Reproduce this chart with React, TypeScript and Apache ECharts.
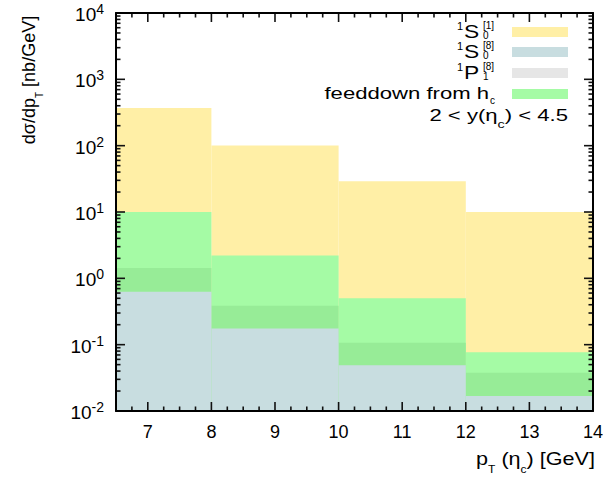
import React, { useEffect, useRef } from "react";
import * as echarts from "echarts";

// Bin edges in p_T (GeV) and differential cross sections per bin (nb/GeV)
const binEdges = [6.5, 8, 10, 12, 14];
const s0Singlet = [369, 101, 29, 10];
const feeddownHc = [10, 2.2, 0.5, 0.077];
const p1Octet = [1.43, 0.385, 0.107, 0.0376];
const s0Octet = [0.626, 0.175, 0.049, 0.0169];

// Axis ticks and labels
const xTickLabels = [7, 8, 9, 10, 11, 12, 13, 14];
const yDecades = [0.01, 0.1, 1, 10, 100, 1000, 10000];

const X_MIN = 6.5;
const X_MAX = 14;
const Y_MIN = 0.01;
const Y_MAX = 10000;

const FONT = "'Liberation Sans', Arial, Helvetica, sans-serif";

const COLORS = {
  singlet: "#ffefa6",
  feeddown: "#a5fba5",
  p1: "#97ec97",
  octet: "#c8dde0",
  p1Legend: "#e6e6e6",
};

function binSeries(name: string, values: number[], color: string) {
  return {
    type: "custom",
    name,
    clip: true,
    encode: { x: [0, 2], y: 1 },
    data: values.map((v, i) => [binEdges[i], v, binEdges[i + 1]]),
    renderItem: (_params: any, api: any) => {
      const tl = api.coord([api.value(0), api.value(1)]);
      const br = api.coord([api.value(2), Y_MIN]);
      return {
        type: "rect",
        shape: { x: tl[0], y: tl[1], width: br[0] - tl[0], height: br[1] - tl[1] },
        style: { fill: color },
      };
    },
  };
}

function buildTicks() {
  const ticks: number[][] = [];
  // x ticks: [x, y, major, axis]
  for (let i = 0; i < xTickLabels.length; i++) {
    const major = xTickLabels[i];
    ticks.push([major, Y_MIN, 1, 0]);
    for (const q of [-0.25, -0.5, -0.75]) {
      const m = major + q;
      if (m >= X_MIN && Number.isInteger(m) === false) ticks.push([m, Y_MIN, 0, 0]);
    }
  }
  // y ticks: decades plus 2..9 multiples
  for (let i = 0; i < yDecades.length; i++) {
    const d = yDecades[i];
    ticks.push([X_MIN, d, 1, 1]);
    if (i < yDecades.length - 1) {
      for (let m = 2; m <= 9; m++) ticks.push([X_MIN, d * m, 0, 1]);
    }
  }
  return ticks;
}

function tickSeries() {
  return {
    type: "custom",
    name: "ticks",
    silent: true,
    clip: false,
    z: 5,
    encode: { x: 0, y: 1 },
    data: buildTicks(),
    renderItem: (_params: any, api: any) => {
      const major = api.value(2) === 1;
      const axis = api.value(3);
      const len = major ? 9 : 4.5;
      const style = { stroke: "#111", lineWidth: 1.6 };
      if (axis === 0) {
        const b = api.coord([api.value(0), Y_MIN]);
        const t = api.coord([api.value(0), Y_MAX]);
        return {
          type: "group",
          children: [
            { type: "line", shape: { x1: b[0], y1: b[1], x2: b[0], y2: b[1] - len }, style },
            { type: "line", shape: { x1: t[0], y1: t[1], x2: t[0], y2: t[1] + len }, style },
          ],
        };
      }
      const l = api.coord([X_MIN, api.value(1)]);
      const r = api.coord([X_MAX, api.value(1)]);
      return {
        type: "group",
        children: [
          { type: "line", shape: { x1: l[0], y1: l[1], x2: l[0] + len, y2: l[1] }, style },
          { type: "line", shape: { x1: r[0], y1: r[1], x2: r[0] - len, y2: r[1] }, style },
        ],
      };
    },
  };
}

function txt(text: string, x: number, y: number, size: number, align: string, extra: any = {}) {
  const { style: extraStyle, ...rest } = extra;
  return {
    type: "text",
    x,
    y,
    z: 20,
    ...rest,
    style: {
      text,
      fontSize: size,
      fontFamily: FONT,
      fill: "#000",
      align,
      verticalAlign: "middle",
      ...(extraStyle || {}),
    },
  };
}

function legendRow(letter: string, sup: string, sub: string, cy: number, color: string) {
  const small = { style: { lineHeight: 8 } };
  return [
    txt("1", 463, cy - 6, 11, "right", small),
    txt(letter, 464, cy - 1, 19, "left", { scaleX: 1.2, style: { lineHeight: 15 } }),
    txt(sup, 483, cy - 6.5, 10, "left", small),
    txt(sub, 483, cy + 3.5, 10, "left", small),
    {
      type: "rect",
      z: 20,
      shape: { x: 512, y: cy - 5, width: 56, height: 10 },
      style: { fill: color },
    },
  ];
}

export default function App() {
  const ref = useRef<HTMLDivElement>(null);

  useEffect(() => {
    if (!ref.current) return;
    const chart = echarts.init(ref.current, null, { renderer: "svg" });
    const axisLine = { show: true, onZero: false, lineStyle: { color: "#000", width: 2 } };

    const option: any = {
      animation: false,
      backgroundColor: "#fff",
      grid: { left: 116, right: 13, top: 13, bottom: 66 },
      xAxis: [
        {
          type: "value",
          min: X_MIN,
          max: X_MAX,
          position: "bottom",
          z: 10,
          axisLine,
          axisTick: { show: false },
          splitLine: { show: false },
          axisLabel: {
            customValues: xTickLabels,
            formatter: (v: number) => String(v),
            fontSize: 18,
            fontFamily: FONT,
            color: "#000",
            margin: 12,
          },
        },
        {
          type: "value",
          min: X_MIN,
          max: X_MAX,
          position: "top",
          z: 10,
          axisLine,
          axisTick: { show: false },
          splitLine: { show: false },
          axisLabel: { show: false },
        },
      ],
      yAxis: [
        {
          type: "log",
          logBase: 10,
          min: Y_MIN,
          max: Y_MAX,
          position: "left",
          z: 10,
          axisLine,
          axisTick: { show: false },
          splitLine: { show: false },
          axisLabel: {
            customValues: yDecades,
            formatter: (v: number) => `{b|10}{e|${Math.round(Math.log10(v))}}`,
            margin: 12,
            rich: {
              b: { fontSize: 19, fontFamily: FONT, color: "#000", lineHeight: 22, verticalAlign: "bottom" },
              e: { fontSize: 14, fontFamily: FONT, color: "#000", lineHeight: 13, verticalAlign: "top" },
            },
          },
        },
        {
          type: "log",
          logBase: 10,
          min: Y_MIN,
          max: Y_MAX,
          position: "right",
          z: 10,
          axisLine,
          axisTick: { show: false },
          splitLine: { show: false },
          axisLabel: { show: false },
        },
      ],
      series: [
        binSeries("1S0[1]", s0Singlet, COLORS.singlet),
        binSeries("feeddown from hc", feeddownHc, COLORS.feeddown),
        binSeries("1P1[8]", p1Octet, COLORS.p1),
        binSeries("1S0[8]", s0Octet, COLORS.octet),
        tickSeries(),
      ],
      graphic: [
        // y axis title
        {
          type: "text",
          x: 32,
          y: 80,
          rotation: Math.PI / 2,
          z: 20,
          style: {
            text: "{a|dσ/dp}{s|T}{a| [nb/GeV]}",
            align: "center",
            verticalAlign: "middle",
            rich: {
              a: { fontSize: 18, fontFamily: FONT, fill: "#000", lineHeight: 24, verticalAlign: "top" },
              s: { fontSize: 10, fontFamily: FONT, fill: "#000", lineHeight: 10, verticalAlign: "bottom" },
            },
          },
        },
        // x axis title
        {
          type: "text",
          x: 595,
          y: 462,
          z: 20,
          scaleX: 1.2,
          style: {
            text: "{a|p}{s|T}{a| (η}{s|c}{a|) [GeV]}",
            align: "right",
            verticalAlign: "middle",
            rich: {
              a: { fontSize: 18, fontFamily: FONT, fill: "#000", lineHeight: 24, verticalAlign: "top" },
              s: { fontSize: 10, fontFamily: FONT, fill: "#000", lineHeight: 10, verticalAlign: "bottom" },
            },
          },
        },
        ...legendRow("S", "[1]", "0", 32, COLORS.singlet),
        ...legendRow("S", "[8]", "0", 52, COLORS.octet),
        ...legendRow("P", "[8]", "1", 73, COLORS.p1Legend),
        txt("feeddown from h", 489, 93, 17, "right", { scaleX: 1.3 }),
        txt("c", 490, 100, 10, "left", { style: { lineHeight: 8 } }),
        {
          type: "rect",
          z: 20,
          shape: { x: 512, y: 89, width: 56, height: 10 },
          style: { fill: COLORS.feeddown },
        },
        {
          type: "text",
          x: 568,
          y: 118,
          z: 20,
          scaleX: 1.3,
          style: {
            text: "{a|2 < y(η}{s|c}{a|) < 4.5}",
            align: "right",
            verticalAlign: "middle",
            rich: {
              a: { fontSize: 17, fontFamily: FONT, fill: "#000", lineHeight: 24, verticalAlign: "top" },
              s: { fontSize: 11, fontFamily: FONT, fill: "#000", lineHeight: 11, verticalAlign: "bottom" },
            },
          },
        },
      ],
    };

    chart.setOption(option);
    return () => chart.dispose();
  }, []);

  return (
    <div
      ref={ref}
      style={{ position: "fixed", left: 0, top: 0, width: 606, height: 477 }}
    />
  );
}
